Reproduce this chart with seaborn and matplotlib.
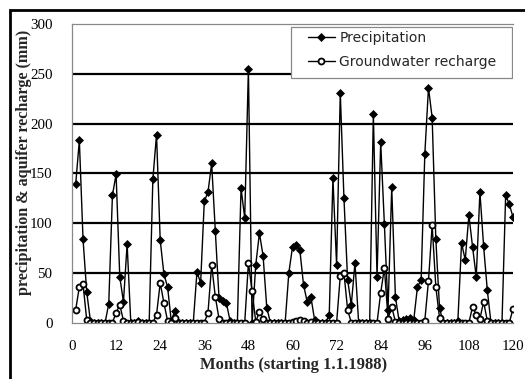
import numpy as np
import pandas as pd
import matplotlib
matplotlib.use('Agg')
import matplotlib.pyplot as plt
from matplotlib.patches import Rectangle
import seaborn as sns

sns.set_style('white')
plt.rcParams['font.family'] = ['Liberation Serif', 'DejaVu Serif']

# Meses desde 1.1.1988
months = list(range(1, 121))

# Precipitacion mensual (mm)
precip = [139, 183, 84, 31, 2, 0, 0, 0, 0, 19,
          128, 149, 46, 21, 79, 0, 0, 2, 0, 0,
          0, 144, 189, 83, 49, 36, 2, 12, 0, 0,
          0, 0, 0, 51, 40, 122, 131, 160, 92, 25,
          22, 20, 2, 0, 0, 135, 105, 255, 0, 58,
          90, 67, 15, 0, 0, 0, 0, 0, 50, 76,
          78, 73, 38, 21, 26, 3, 0, 0, 0, 8,
          145, 58, 231, 125, 43, 18, 60, 0, 0, 0,
          0, 210, 46, 181, 99, 13, 136, 26, 2, 3,
          4, 5, 3, 36, 43, 169, 236, 206, 84, 15,
          0, 0, 0, 0, 2, 80, 63, 108, 76, 46,
          131, 77, 33, 0, 0, 0, 0, 128, 119, 106]

# Recarga del acuifero (mm)
recharge = [13, 36, 39, 3, 0, 0, 0, 0, 0, 0,
            0, 10, 18, 2, 0, 0, 0, 1, 0, 0,
            0, 0, 8, 40, 20, 2, 0, 5, 0, 0,
            0, 0, 0, 0, 0, 0, 10, 58, 26, 4,
            0, 0, 0, 0, 0, 0, 0, 60, 32, 1,
            11, 4, 0, 0, 0, 0, 0, 0, 0, 1,
            2, 3, 2, 0, 1, 0, 0, 0, 0, 0,
            0, 0, 47, 50, 13, 0, 0, 0, 0, 0,
            0, 0, 0, 30, 55, 4, 16, 1, 0, 0,
            0, 0, 0, 0, 0, 2, 42, 98, 36, 5,
            0, 0, 0, 0, 0, 0, 0, 0, 16, 8,
            4, 21, 2, 0, 0, 0, 0, 0, 0, 14]

df = pd.DataFrame({'month': months, 'precip': precip, 'recharge': recharge})

fig = plt.figure(figsize=(5.25, 3.79), dpi=100)
ax = fig.add_axes([72/525, 1 - 322.7/379, 441/525, 298.7/379])

sns.lineplot(data=df, x='month', y='precip', ax=ax, color='black', linewidth=1,
             marker='D', markersize=4.4, markerfacecolor='black',
             markeredgecolor='black', markeredgewidth=0.5)
sns.lineplot(data=df, x='month', y='recharge', ax=ax, color='black', linewidth=1,
             marker='o', markersize=4.3, markerfacecolor='white',
             markeredgecolor='black', markeredgewidth=1.3)

ax.set_xlim(0, 120)
ax.set_ylim(0, 300)
ax.set_xticks(range(0, 121, 12))
ax.set_yticks(range(0, 301, 50))
ax.tick_params(axis='both', labelsize=10.8, colors='black', length=3.5,
               width=0.8, direction='out')
ax.tick_params(axis='x', color='#888888', pad=9)
ax.tick_params(axis='y', color='#888888', pad=10.5)

# lineas horizontales gruesas
ax.set_axisbelow(True)
ax.yaxis.grid(True, color='black', linewidth=1.6)
gl = ax.get_ygridlines()
gl[0].set_visible(False)
gl[-1].set_visible(False)

for s in ['left', 'bottom', 'top']:
    ax.spines[s].set_color('#888888')
    ax.spines[s].set_linewidth(0.9)
ax.spines['right'].set_visible(False)

ax.set_xlabel('Months (starting 1.1.1988)', fontsize=12, fontweight='bold')
ax.set_ylabel('precipitation & aquifer recharge (mm)', fontsize=11.6,
              fontweight='bold')
ax.xaxis.set_label_coords(0.502, -0.115)
ax.yaxis.set_label_coords(-0.091, 0.536)

# leyenda
ax.add_patch(Rectangle((0.4966, 0.819), 0.5004, 0.171, transform=ax.transAxes,
                       facecolor='white', edgecolor='#888888', linewidth=0.9,
                       zorder=4))
lines = ax.get_lines()
leg = ax.legend(handles=[lines[0], lines[1]],
                labels=['Precipitation', 'Groundwater recharge'],
                loc='upper left', bbox_to_anchor=(0.535, 0.977),
                frameon=False, borderpad=0, borderaxespad=0,
                labelspacing=0.7, handlelength=1.95, handletextpad=0.3,
                prop={'family': 'DejaVu Sans', 'size': 10})
leg.set_zorder(5)

# marco exterior
fig.patches.append(Rectangle((10/525, -0.2), 1.2, 1.2 - 10/379,
                             transform=fig.transFigure, fill=False,
                             edgecolor='black', linewidth=2))

fig.savefig('out.png', dpi=100)
